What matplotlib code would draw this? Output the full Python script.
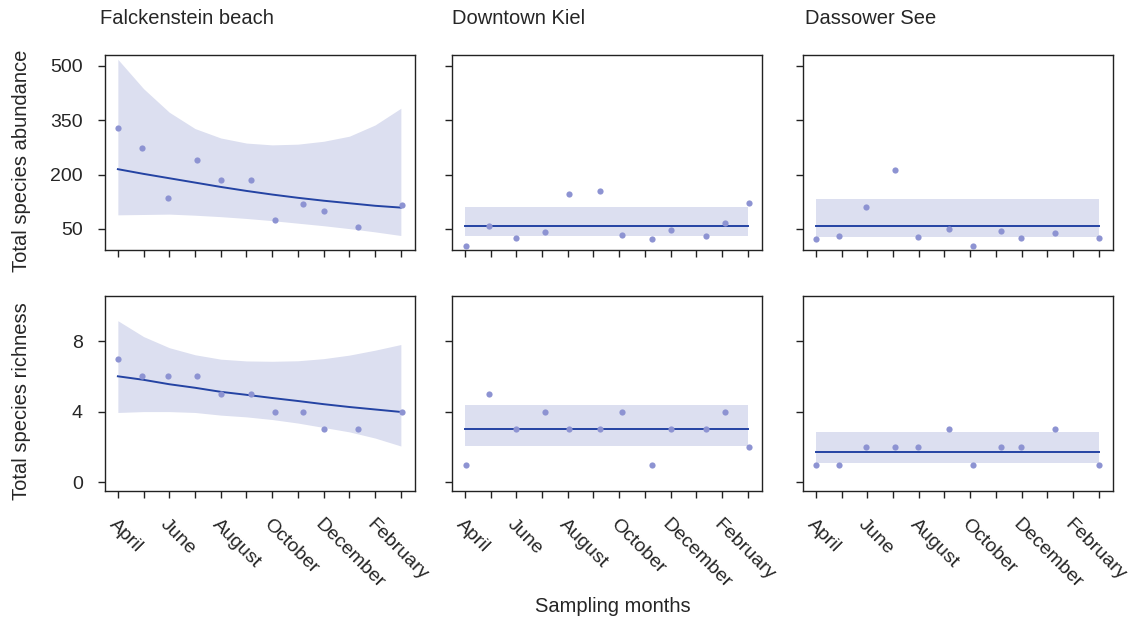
import matplotlib

matplotlib.use("Agg")
import matplotlib.pyplot as plt

plt.rcParams["font.family"] = ["Liberation Sans", "DejaVu Sans"]

# month ticks (0 = April ... 11 = March)
month_ticks = list(range(12))
month_labels = ["April", "", "June", "", "August", "", "October", "",
                "December", "", "February", ""]

sites = ["Falckenstein beach", "Downtown Kiel", "Dassower See"]

# sampling dates as months since 1 April
x_falck = [0, 0.92, 1.95, 3.09, 4.0, 5.16, 6.1, 7.21, 8.02, 9.32, 11.03]
x_kiel = [0.04, 0.95, 1.99, 3.12, 4.03, 5.24, 6.12, 7.26, 8.02, 9.36, 10.12, 11.03]
x_dass = [0, 0.91, 1.93, 3.06, 3.96, 5.17, 6.1, 7.19, 7.99, 9.29, 10.99]

abund_falck = [328, 274, 135, 240, 185, 184, 75, 119, 100, 56, 117]
abund_kiel = [4, 59, 24, 41, 147, 155, 34, 22, 48, 31, 67, 122]
abund_dass = [22, 31, 112, 212, 27, 50, 4, 44, 25, 40, 26]

rich_falck = [7, 6, 6, 6, 5, 5, 4, 4, 3, 3, 4]
rich_kiel = [1, 5, 3, 4, 3, 3, 4, 1, 3, 3, 4, 2]
rich_dass = [1, 1, 2, 2, 2, 3, 1, 2, 2, 3, 1]

# model fits for Falckenstein, read at each month tick
fit_abund_falck = [215, 202, 190, 178, 166, 155, 145, 136, 128, 121, 114, 109]
hi_abund_falck = [518, 437, 372, 327, 301, 287, 282, 284, 292, 306, 337, 383]
lo_abund_falck = [89, 90, 91, 88, 84, 79, 73, 66, 59, 51, 42, 32]

fit_rich_falck = [6.0, 5.8, 5.55, 5.35, 5.12, 4.95, 4.77, 4.6, 4.42, 4.26, 4.12, 3.98]
hi_rich_falck = [9.15, 8.25, 7.62, 7.22, 6.97, 6.87, 6.85, 6.88, 7.0, 7.2, 7.48, 7.8]
lo_rich_falck = [3.95, 4.0, 4.0, 3.95, 3.8, 3.7, 3.55, 3.35, 3.1, 2.85, 2.5, 2.05]

# intercept-only fits (level, low, high)
abund_kiel_fit = (59, 31, 111)
abund_dass_fit = (59, 27, 132)
rich_kiel_fit = (3.0, 2.05, 4.4)
rich_dass_fit = (1.73, 1.1, 2.86)

point_color = "#8d93d2"
line_color = "#2443a3"
band_color = "#dcdff0"

W, H = 1144, 621
fig = plt.figure(figsize=(W / 100, H / 100), dpi=100)

col_left = [105, 452, 803]
ax_w = 310
row_top = [55, 296]
ax_h = 195


def add_panel(col, row):
    left = col_left[col] / W
    bottom = 1 - (row_top[row] + ax_h) / H
    return fig.add_axes([left, bottom, ax_w / W, ax_h / H])


def style(ax, show_y, show_x=True):
    for spine in ax.spines.values():
        spine.set_linewidth(1.0)
        spine.set_color("#222222")
    ax.tick_params(axis="both", length=5, width=1.0, color="#222222",
                   labelsize=14, labelcolor="#262626")
    ax.tick_params(axis="y", pad=11)
    ax.set_xticks(month_ticks)
    ax.set_xlim(-0.5, 11.55)
    if show_x:
        ax.set_xticklabels(month_labels, rotation=-45, ha="left",
                           va="top", rotation_mode="anchor")
        ax.tick_params(axis="x", pad=13)
    else:
        ax.set_xticklabels([])
    if not show_y:
        ax.set_yticklabels([])


def draw_curve(ax, x, y, fit, lo, hi):
    ax.fill_between(month_ticks, lo, hi, color=band_color, lw=0, zorder=1)
    ax.plot(month_ticks, fit, color=line_color, lw=1.4, zorder=2)
    ax.scatter(x, y, s=20, color=point_color, lw=0, zorder=3)


def draw_flat(ax, x, y, fit):
    level, lo, hi = fit
    ax.fill_between([0, 11], [lo, lo], [hi, hi], color=band_color, lw=0,
                    zorder=1)
    ax.plot([0, 11], [level, level], color=line_color, lw=1.4, zorder=2)
    ax.scatter(x, y, s=20, color=point_color, lw=0, zorder=3)


# top row: abundance
axes_top = [add_panel(c, 0) for c in range(3)]
draw_curve(axes_top[0], x_falck, abund_falck, fit_abund_falck,
           lo_abund_falck, hi_abund_falck)
draw_flat(axes_top[1], x_kiel, abund_kiel, abund_kiel_fit)
draw_flat(axes_top[2], x_dass, abund_dass, abund_dass_fit)
for i, ax in enumerate(axes_top):
    ax.set_ylim(-8, 530)
    ax.set_yticks([50, 200, 350, 500])
    style(ax, show_y=(i == 0), show_x=False)

# bottom row: richness
axes_bot = [add_panel(c, 1) for c in range(3)]
draw_curve(axes_bot[0], x_falck, rich_falck, fit_rich_falck,
           lo_rich_falck, hi_rich_falck)
draw_flat(axes_bot[1], x_kiel, rich_kiel, rich_kiel_fit)
draw_flat(axes_bot[2], x_dass, rich_dass, rich_dass_fit)
for i, ax in enumerate(axes_bot):
    ax.set_ylim(-0.5, 10.55)
    ax.set_yticks([0, 4, 8])
    style(ax, show_y=(i == 0), show_x=True)

# site titles
title_x = [100, 452, 805]
for tx, site in zip(title_x, sites):
    fig.text(tx / W, 1 - 18 / H, site, fontsize=14.5, color="#262626",
             ha="left", va="center")

fig.text(22 / W, 1 - 161 / H, "Total species abundance", rotation=90,
         fontsize=14.5, color="#262626", ha="center", va="center")
fig.text(22 / W, 1 - 401 / H, "Total species richness", rotation=90,
         fontsize=14.5, color="#262626", ha="center", va="center")
fig.text(613 / W, 1 - 607 / H, "Sampling months", fontsize=14.5,
         color="#262626", ha="center", va="center")

fig.savefig("out.png", dpi=100)
plt.close(fig)
